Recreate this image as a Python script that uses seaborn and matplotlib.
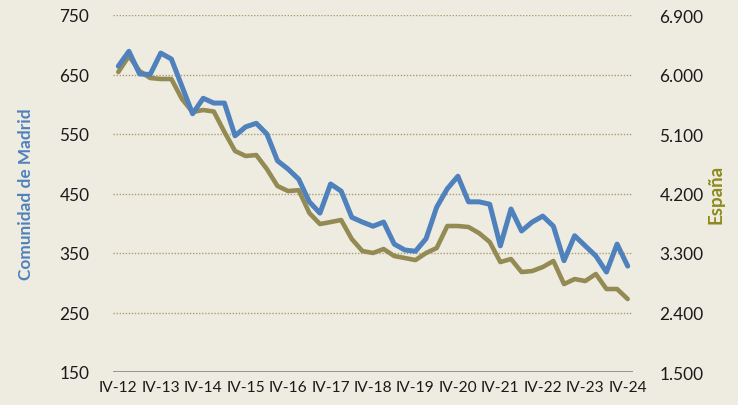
import numpy as np
import pandas as pd
import matplotlib
matplotlib.use('Agg')
import matplotlib.pyplot as plt
import seaborn as sns

# Quarterly series, IV-12 .. IV-24 (49 quarters)
madrid = [664, 689, 651, 650, 686, 676, 630, 584, 610, 602,
          602, 547, 562, 568, 550, 505, 491, 474, 436, 417,
          466, 454, 410, 402, 395, 402, 365, 355, 353, 374,
          427, 458, 479, 436, 436, 432, 362, 424, 387, 402,
          412, 395, 337, 379, 362, 345, 318, 365, 328]
espana = [6038, 6280, 6053, 5947, 5932, 5932, 5629, 5432, 5463, 5440,
          5130, 4843, 4767, 4782, 4570, 4313, 4237, 4250, 3905, 3738,
          3768, 3799, 3511, 3330, 3300, 3360, 3254, 3224, 3193, 3300,
          3375, 3708, 3708, 3693, 3600, 3466, 3163, 3209, 3012, 3027,
          3088, 3179, 2830, 2906, 2876, 2982, 2755, 2755, 2604]
year_labels = ['IV-12', 'IV-13', 'IV-14', 'IV-15', 'IV-16', 'IV-17', 'IV-18',
               'IV-19', 'IV-20', 'IV-21', 'IV-22', 'IV-23', 'IV-24']
left_ticks = [150, 250, 350, 450, 550, 650, 750]
right_ticks = [1500, 2400, 3300, 4200, 5100, 6000, 6900]

df = pd.DataFrame({'q': np.arange(len(madrid)), 'madrid': madrid, 'espana': espana})

bg = '#EEECE1'
blue = '#4F81BD'
olive = '#948A54'

sns.set_style('white')
plt.rcParams['font.family'] = ['Lato', 'DejaVu Sans']

fig = plt.figure(figsize=(7.38, 4.06), dpi=100, facecolor=bg)
ax1 = fig.add_axes([113 / 738, 1 - 373 / 406, 520 / 738, 357 / 406])
ax1.set_facecolor(bg)
ax2 = ax1.twinx()

sns.lineplot(data=df, x='q', y='espana', ax=ax2, color=olive, linewidth=3.3, zorder=2)
sns.lineplot(data=df, x='q', y='madrid', ax=ax1, color=blue, linewidth=3.6, zorder=3)

# put blue above olive
ax1.set_zorder(ax2.get_zorder() + 1)
ax1.patch.set_visible(False)
ax2.patch.set_visible(True)
ax2.patch.set_facecolor(bg)

ax1.set_xlim(-0.5, len(madrid) - 0.5)
ax1.set_ylim(150, 750)
ax2.set_ylim(1500, 6900)

ax1.set_yticks(left_ticks)
ax1.set_yticklabels([str(v) for v in left_ticks])
ax2.set_yticks(right_ticks)
ax2.set_yticklabels([f'{v:,}'.replace(',', '.') for v in right_ticks])
ax1.set_xticks(np.arange(0, len(madrid), 4))
ax1.set_xticklabels(year_labels)

for a in (ax1, ax2):
    for s in a.spines.values():
        s.set_visible(False)
    a.tick_params(length=0)

ax1.tick_params(axis='y', labelsize=12.4, pad=17, labelcolor='#1a1a1a')
ax2.tick_params(axis='y', labelsize=12.4, pad=19, labelcolor='#1a1a1a')
ax1.tick_params(axis='x', labelsize=11.2, pad=6, labelcolor='#1a1a1a')

# dotted grid lines on the back axes
for v in right_ticks[1:]:
    ax2.axhline(v, color='#A99E70', linestyle=(0, (1, 1.2)), linewidth=1.0, zorder=0)
ax2.axhline(1500, color='#8C8C8C', linewidth=1.3, zorder=1)

ax1.set_xlabel('')
ax1.set_ylabel('Comunidad de Madrid', color=blue, fontsize=12.4, fontweight='bold', labelpad=18)
ax2.set_ylabel('España', color='#8C8A1C', fontsize=13.5, fontweight='bold', labelpad=3)

fig.savefig('out.png', dpi=100, facecolor=bg)
